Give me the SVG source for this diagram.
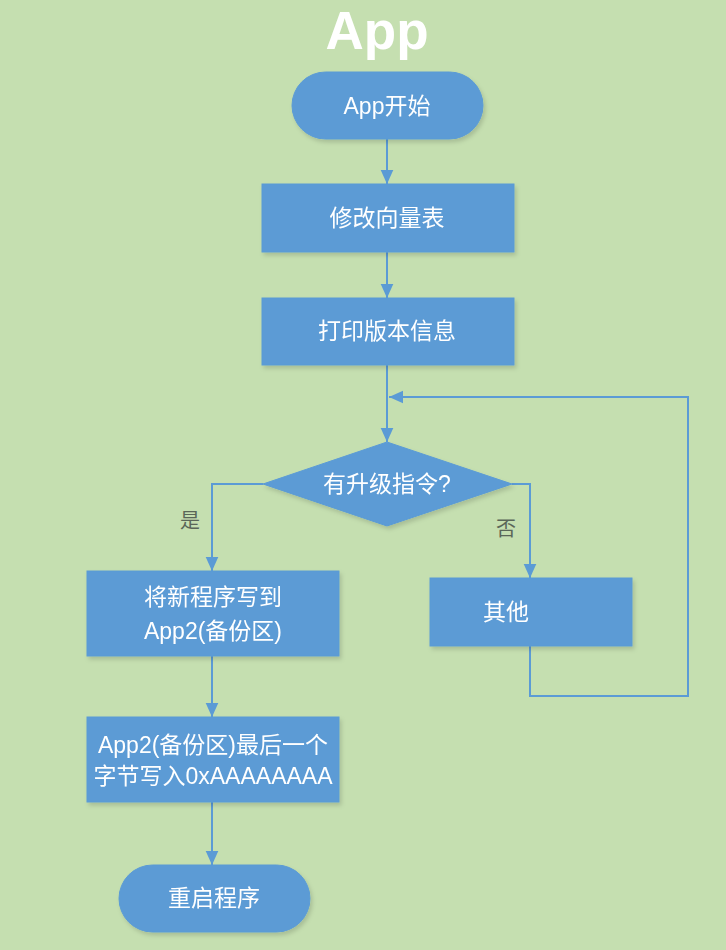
<svg xmlns="http://www.w3.org/2000/svg" width="726" height="950" viewBox="0 0 726 950">
<defs>
<style>
.box{fill:#5b9bd5;stroke:#5b9bd5;stroke-width:1}
.t{fill:#ffffff;font-family:"Liberation Sans","Noto Sans CJK SC",sans-serif;font-size:23px;text-anchor:middle;dominant-baseline:central}
.lbl{fill:#5a6658;font-family:"Noto Sans CJK SC",sans-serif;font-size:20px;text-anchor:middle;dominant-baseline:central}
.ln{fill:none;stroke:#5b9bd5;stroke-width:2}
</style>
<marker id="ah2" viewBox="0 0 10 10" refX="10" refY="5" markerWidth="14" markerHeight="14" orient="auto" markerUnits="userSpaceOnUse">
<path d="M0,0.5 L10,5 L0,9.5 z" fill="#5b9bd5"/>
</marker>
<filter id="sh" x="-10%" y="-10%" width="130%" height="140%">
<feDropShadow dx="2" dy="3" stdDeviation="2" flood-color="#000" flood-opacity="0.15"/>
</filter>
</defs>
<rect width="726" height="950" fill="#c5dfb0"/>
<text x="377" y="30" fill="#ffffff" font-family="Liberation Sans, sans-serif" font-size="53" font-weight="bold" text-anchor="middle" dominant-baseline="central">App</text>

<g id="connectors">
<line class="ln" x1="387" y1="139" x2="387" y2="184" marker-end="url(#ah2)"/>
<line class="ln" x1="387" y1="252" x2="387" y2="298" marker-end="url(#ah2)"/>
<line class="ln" x1="387" y1="365" x2="387" y2="442" marker-end="url(#ah2)"/>
<polyline class="ln" points="530,646 530,696 688,696 688,397 389,397" marker-end="url(#ah2)"/>
<polyline class="ln" points="263,484 212,484 212,571" marker-end="url(#ah2)"/>
<polyline class="ln" points="512,484 530,484 530,578" marker-end="url(#ah2)"/>
<line class="ln" x1="212" y1="656" x2="212" y2="717" marker-end="url(#ah2)"/>
<line class="ln" x1="212" y1="802" x2="212" y2="865" marker-end="url(#ah2)"/>
<text class="lbl" x="190" y="519">是</text>
<text class="lbl" x="506" y="527">否</text>
</g>

<g id="start" filter="url(#sh)">
<rect class="box" x="292" y="72" width="191" height="67" rx="33.5"/>
<text class="t" x="387" y="106">App开始</text>
</g>
<g id="vector" filter="url(#sh)">
<rect class="box" x="262" y="184" width="252" height="68"/>
<text class="t" x="387" y="218">修改向量表</text>
</g>
<g id="version" filter="url(#sh)">
<rect class="box" x="262" y="298" width="252" height="67"/>
<text class="t" x="387" y="331">打印版本信息</text>
</g>
<g id="decision" filter="url(#sh)">
<polygon class="box" points="387,442 512,484 387,526 263,484"/>
<text class="t" x="387" y="484">有升级指令?</text>
</g>
<g id="write" filter="url(#sh)">
<rect class="box" x="87" y="571" width="252" height="85"/>
<text class="t" x="213" y="597">将新程序写到</text>
<text class="t" x="213" y="631">App2(备份区)</text>
</g>
<g id="other" filter="url(#sh)">
<rect class="box" x="430" y="578" width="202" height="68"/>
<text class="t" x="506" y="612">其他</text>
</g>
<g id="lastbyte" filter="url(#sh)">
<rect class="box" x="87" y="717" width="252" height="85"/>
<text class="t" x="213" y="745">App2(备份区)最后一个</text>
<text class="t" x="213" y="776">字节写入0xAAAAAAAA</text>
</g>
<g id="restart" filter="url(#sh)">
<rect class="box" x="119" y="865" width="191" height="67" rx="33.5"/>
<text class="t" x="214" y="898">重启程序</text>
</g>
</svg>
